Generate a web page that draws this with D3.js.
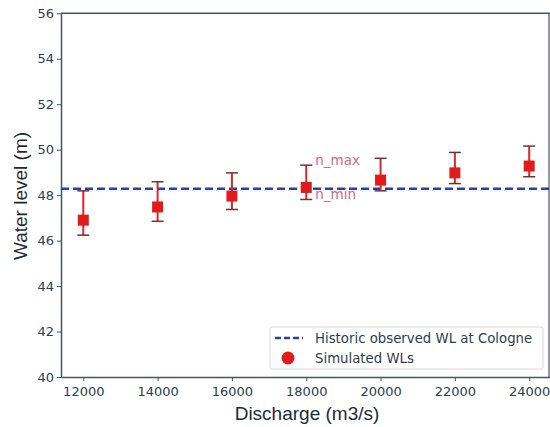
<!DOCTYPE html>
<html>
<head>
<meta charset="utf-8">
<script src="https://cdn.jsdelivr.net/npm/d3@7"></script>
<style>
  body { margin: 0; background: #fff; }
  svg { display: block; }
</style>
</head>
<body>
<script>
// Discharge values (m3/s) and the simulated water levels (m)
var discharge = [12000, 14000, 16000, 18000, 20000, 22000, 24000];
var wlMid = [46.9, 47.48, 47.96, 48.34, 48.66, 48.98, 49.28];
var wlMax = [48.19, 48.59, 48.98, 49.32, 49.62, 49.88, 50.16];
var wlMin = [46.24, 46.85, 47.37, 47.81, 48.19, 48.51, 48.81];

// historic observed WL at Cologne
var observedWL = 48.28;

var xTicks = [12000, 14000, 16000, 18000, 20000, 22000, 24000];
var yTicks = [40, 42, 44, 46, 48, 50, 52, 54, 56];

var WIDTH = 550;
var HEIGHT = 427;
var AXIS = "#44555f";
var TEXT = "#2f3d47";

var svg = d3.select("body").append("svg")
    .attr("width", WIDTH)
    .attr("height", HEIGHT);

var x = d3.scaleLinear().domain([11400, 24600]).range([61, 551.5]);
var y = d3.scaleLinear().domain([40, 56]).range([377, 13.3]);

// axes
var xAxis = svg.append("g")
    .attr("transform", "translate(0," + y(40) + ")")
    .call(d3.axisBottom(x).tickValues(xTicks).tickFormat(d3.format("d")).tickSize(4).tickSizeOuter(0));
var yAxis = svg.append("g")
    .attr("transform", "translate(" + x(11400) + ",0)")
    .call(d3.axisLeft(y).tickValues(yTicks).tickSize(4).tickSizeOuter(0));

[xAxis, yAxis].forEach(function(g){
  g.select(".domain").attr("stroke", AXIS).attr("stroke-width", 1.5);
  g.selectAll(".tick line").attr("stroke", AXIS).attr("stroke-width", 1);
  g.selectAll(".tick text")
    .attr("fill", TEXT)
    .style("font-family", "DejaVu Sans")
    .style("font-size", "13px");
});
xAxis.selectAll(".tick text").attr("dy", "0.95em");

// top and right spines
svg.append("line")
    .attr("x1", x(11400)).attr("x2", x(24600))
    .attr("y1", y(56)).attr("y2", y(56))
    .attr("stroke", AXIS).attr("stroke-width", 1.5);
svg.append("line")
    .attr("x1", 549).attr("x2", 549)
    .attr("y1", y(56)).attr("y2", y(40))
    .attr("stroke", AXIS).attr("stroke-width", 1.2);

// observed water level line
svg.append("line")
    .attr("x1", x(11400)).attr("x2", x(24600))
    .attr("y1", y(observedWL)).attr("y2", y(observedWL))
    .attr("stroke", "#2b3fa8")
    .attr("stroke-width", 2.5)
    .attr("stroke-dasharray", "8,4");

// error bars
var pts = discharge.map(function(d, i){
  return {q: d, mid: wlMid[i], hi: wlMax[i], lo: wlMin[i]};
});

var bars = svg.append("g").selectAll("g")
    .data(pts)
  .enter().append("g");

bars.append("line")
    .attr("x1", function(d){ return x(d.q); })
    .attr("x2", function(d){ return x(d.q); })
    .attr("y1", function(d){ return y(d.hi); })
    .attr("y2", function(d){ return y(d.lo); })
    .attr("stroke", "#d42a2a")
    .attr("stroke-width", 2);

bars.selectAll(".cap")
    .data(function(d){ return [d.hi, d.lo].map(function(v){ return {q: d.q, v: v}; }); })
  .enter().append("line")
    .attr("class", "cap")
    .attr("x1", function(d){ return x(d.q) - 6; })
    .attr("x2", function(d){ return x(d.q) + 6; })
    .attr("y1", function(d){ return y(d.v); })
    .attr("y2", function(d){ return y(d.v); })
    .attr("stroke", "#6b3535")
    .attr("stroke-width", 1.5);

bars.append("rect")
    .attr("x", function(d){ return x(d.q) - 5.5; })
    .attr("y", function(d){ return y(d.mid) - 5.5; })
    .attr("width", 11)
    .attr("height", 11)
    .attr("fill", "#e01b1b");

// n_max / n_min labels at 18000
svg.append("text")
    .attr("x", x(18000) + 9)
    .attr("y", 165)
    .attr("fill", "#d26a84")
    .style("font-family", "DejaVu Sans")
    .style("font-size", "13.5px")
    .text("n_max");
svg.append("text")
    .attr("x", x(18000) + 9)
    .attr("y", 199)
    .attr("fill", "#d26a84")
    .style("font-family", "DejaVu Sans")
    .style("font-size", "13.5px")
    .text("n_min");

// axis labels
svg.append("text")
    .attr("x", 307)
    .attr("y", 420)
    .attr("text-anchor", "middle")
    .attr("fill", "#1f2a33")
    .style("font-family", "Liberation Sans")
    .style("font-size", "19px")
    .text("Discharge (m3/s)");
svg.append("text")
    .attr("transform", "translate(27,196) rotate(-90)")
    .attr("text-anchor", "middle")
    .attr("fill", "#1f2a33")
    .style("font-family", "Liberation Sans")
    .style("font-size", "19px")
    .text("Water level (m)");

// legend
var legend = svg.append("g");
legend.append("rect")
    .attr("x", 270).attr("y", 327)
    .attr("width", 273).attr("height", 42)
    .attr("rx", 2)
    .attr("fill", "#fff")
    .attr("stroke", "#d8d8d8");
legend.append("line")
    .attr("x1", 275).attr("x2", 303)
    .attr("y1", 338).attr("y2", 338)
    .attr("stroke", "#2b3fa8")
    .attr("stroke-width", 2.5)
    .attr("stroke-dasharray", "6,3");
legend.append("circle")
    .attr("cx", 288).attr("cy", 358).attr("r", 6.5)
    .attr("fill", "#e01b1b");
legend.selectAll("text.lab")
    .data(["Historic observed WL at Cologne", "Simulated WLs"])
  .enter().append("text")
    .attr("class", "lab")
    .attr("x", 315)
    .attr("y", function(d, i){ return 343 + i * 20; })
    .attr("fill", TEXT)
    .style("font-family", "DejaVu Sans")
    .style("font-size", "13.3px")
    .text(function(d){ return d; });
</script>
</body>
</html>
